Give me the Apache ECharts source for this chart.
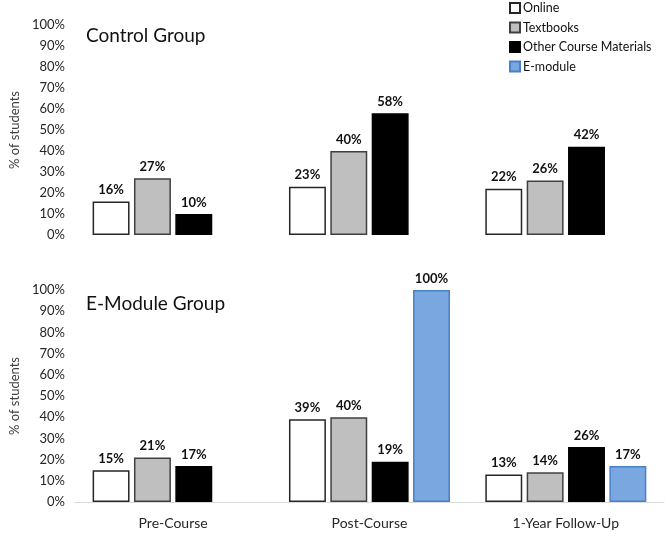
<!DOCTYPE html>
<html>
<head>
<meta charset="utf-8">
<script src="https://cdn.jsdelivr.net/npm/echarts@6/dist/echarts.min.js"></script>
<style>html,body{margin:0;padding:0;background:#fff;}#c{width:669px;height:536px;}</style>
</head>
<body>
<div id="c"></div>
<script>
var categories = ['Pre-Course', 'Post-Course', '1-Year Follow-Up'];
var seriesNames = ['Online', 'Textbooks', 'Other Course Materials', 'E-module'];
var yTicks = [0, 10, 20, 30, 40, 50, 60, 70, 80, 90, 100];

var controlOnline = [16, 23, 22];
var controlTextbooks = [27, 40, 26];
var controlOther = [10, 58, 42];
var controlEmodule = [null, null, null];

var emodOnline = [15, 39, 13];
var emodTextbooks = [21, 40, 14];
var emodOther = [17, 19, 26];
var emodEmodule = [null, 100, 17];

var FONT = 'Lato';
var styles = [
  {color: '#ffffff', borderColor: '#262626', borderWidth: 1.5},
  {color: '#bfbfbf', borderColor: '#404040', borderWidth: 1.5},
  {color: '#000000', borderColor: '#000000', borderWidth: 1.5},
  {color: '#7ba7e0', borderColor: '#4a7fc9', borderWidth: 1.5}
];
var controlData = [controlOnline, controlTextbooks, controlOther, controlEmodule];
var emodData = [emodOnline, emodTextbooks, emodOther, emodEmodule];

function makeSeries(dataSets, idx) {
  return dataSets.map(function (d, i) {
    return {
      name: seriesNames[i], type: 'bar', xAxisIndex: idx, yAxisIndex: idx,
      data: d, barGap: '12%', barCategoryGap: '18%',
      itemStyle: styles[i],
      label: {show: true, position: 'top', distance: 5, formatter: '{c}%',
        fontFamily: FONT, fontWeight: 'bold', fontSize: 13, color: '#111'}
    };
  });
}

function yAxis(idx) {
  return {
    gridIndex: idx, type: 'value', min: 0, max: 100, interval: 10,
    name: '% of students', nameLocation: 'middle', nameGap: 51,
    nameTextStyle: {fontFamily: FONT, fontSize: 13, color: '#404040'},
    axisLine: {show: false}, axisTick: {show: false}, splitLine: {show: false},
    axisLabel: {formatter: '{value}%', fontFamily: FONT, fontSize: 13, color: '#262626', margin: 10}
  };
}

var chart = echarts.init(document.getElementById('c'));
chart.setOption({
  animation: false,
  backgroundColor: '#fff',
  title: [
    {text: 'Control Group', left: 81, top: 21, textStyle: {fontFamily: FONT, fontSize: 19, fontWeight: 'normal', color: '#111'}},
    {text: 'E-Module Group', left: 81, top: 289, textStyle: {fontFamily: FONT, fontSize: 19, fontWeight: 'normal', color: '#111'}}
  ],
  legend: {
    orient: 'vertical', left: 509, top: 1, padding: 0, itemWidth: 10, itemHeight: 10, itemGap: 5.5,
    icon: 'rect', data: seriesNames,
    textStyle: {fontFamily: FONT, fontSize: 12.5, lineHeight: 14, color: '#111', padding: [0, 0, 0, -2]}
  },
  grid: [
    {left: 73, right: 5, top: 25, height: 210},
    {left: 73, right: 5, top: 290, height: 212}
  ],
  xAxis: [
    {gridIndex: 0, type: 'category', data: categories, axisLine: {show: false}, axisTick: {show: false}, axisLabel: {show: false}},
    {gridIndex: 1, type: 'category', data: categories, axisLine: {show: true, lineStyle: {color: '#d9d9d9', width: 1}},
      axisTick: {show: false}, axisLabel: {fontFamily: FONT, fontSize: 14, color: '#262626', margin: 14}}
  ],
  yAxis: [yAxis(0), yAxis(1)],
  series: makeSeries(controlData, 0).concat(makeSeries(emodData, 1))
});
</script>
</body>
</html>
